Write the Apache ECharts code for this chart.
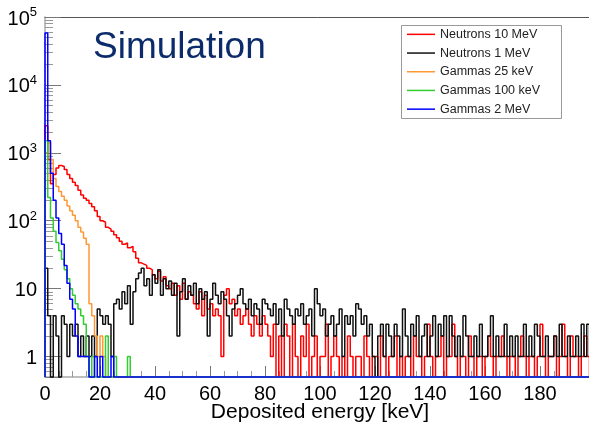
<!DOCTYPE html>
<html><head><meta charset="utf-8">
<script src="https://cdn.jsdelivr.net/npm/echarts@6/dist/echarts.min.js"></script>
<style>html,body{margin:0;padding:0;background:#fff}#c{width:589px;height:424px}</style>
</head><body><div id="c"></div>
<script>
// Legend / series names
const seriesNames = ['Neutrons 10 MeV', 'Neutrons 1 MeV', 'Gammas 25 keV', 'Gammas 100 keV', 'Gammas 2 MeV'];
const seriesColors = ['#ff0000', '#111111', '#ff9933', '#33cc33', '#0000ff'];

// Counts per 1 keV bin, starting at 0 keV (0 = empty bin)
const neutrons10MeV = [
  2500, 800, 350, 480, 600, 650, 630, 570, 480, 420,
  370, 330, 280, 240, 215, 200, 180, 160, 140, 115,
  100, 95, 80, 75, 70, 62, 56, 50, 45, 47,
  40, 42, 35, 28, 24, 23, 22, 20, 19, 16,
  14, 18, 13, 15, 11, 10, 12, 8, 11, 7,
  12, 7, 9, 8, 6, 5, 9, 4, 8, 5,
  6, 4, 5, 4, 1, 8, 10, 6, 7, 4,
  5, 3, 4, 5, 3, 2, 4, 3, 2, 4,
  3, 2, 1, 3, 0, 2, 0, 3, 2, 0,
  3, 1, 0, 2, 1, 3, 0, 1, 2, 0,
  1, 1, 3, 0, 1, 2, 1, 0, 1, 0,
  2, 1, 0, 1, 1, 0, 2, 1, 0, 1,
  1, 0, 2, 1, 0, 1, 1, 2, 0, 1,
  0, 1, 1, 0, 2, 1, 1, 0, 1, 3,
  1, 0, 1, 1, 2, 0, 1, 1, 3, 1,
  0, 1, 1, 0, 2, 1, 0, 1, 1, 0,
  1, 2, 1, 0, 1, 1, 2, 1, 0, 1,
  1, 0, 1, 2, 1, 0, 1, 1, 0, 1,
  3, 1, 0, 1, 1, 2, 0, 1, 3, 1,
  0, 2, 1, 1, 0, 1, 2, 1, 0, 1
];
const neutrons1MeV = [
  20, 4, 0, 4, 2, 0, 4, 3, 1, 3,
  2, 3, 1, 2, 1, 2, 1, 2, 1, 5,
  4, 3, 4, 3, 1, 6, 7, 5, 9, 6,
  11, 3, 9, 14, 17, 20, 11, 14, 8, 16,
  12, 19, 8, 14, 10, 13, 8, 12, 2, 9,
  14, 7, 11, 8, 12, 6, 10, 7, 9, 2,
  7, 12, 8, 6, 9, 7, 4, 2, 5, 6,
  8, 10, 6, 5, 7, 4, 6, 5, 3, 7,
  6, 5, 4, 6, 3, 5, 2, 7, 5, 4,
  3, 5, 4, 6, 3, 4, 5, 2, 10, 6,
  4, 5, 2, 3, 4, 2, 3, 5, 1, 4,
  3, 4, 2, 6, 5, 3, 4, 2, 3, 1,
  0, 2, 3, 1, 3, 2, 1, 3, 2, 1,
  5, 2, 1, 3, 2, 4, 1, 2, 3, 1,
  2, 4, 1, 3, 2, 4, 1, 4, 2, 1,
  2, 1, 4, 2, 1, 1, 2, 1, 3, 1,
  1, 2, 4, 1, 2, 1, 1, 3, 1, 2,
  1, 2, 1, 1, 3, 1, 2, 1, 3, 2,
  1, 1, 2, 1, 1, 2, 1, 3, 1, 1,
  2, 1, 1, 2, 1, 3, 1, 3, 1, 2
];
const gammas25keV = [
  1000, 1400, 800, 420, 320, 270, 230, 200, 165, 140,
  120, 100, 80, 68, 55, 45, 6, 4, 2, 1,
  2, 1
];
const gammas100keV = [
  1500, 220, 110, 70, 48, 36, 27, 19, 14, 10,
  8, 6, 5, 4, 3, 1, 0, 1, 0, 0,
  0, 0, 2, 0, 0, 1, 0, 0, 0, 0,
  1
];
const gammas2MeV = [
  58000, 1500, 500, 200, 110, 65, 45, 22, 12, 7,
  5, 2, 1, 1, 1, 1, 0, 0, 1, 0,
  1, 0, 0, 0, 1
];

// Axis ticks
const xMin = 0, xMax = 200, xInterval = 20;
const yMin = 0.5, yMax = 100000;
const yMinorTicks = [0.6, 0.7, 0.8, 0.9];
[1, 10, 100, 1000, 10000].forEach(d => { for (let m = 2; m <= 9; m++) yMinorTicks.push(m * d); });

const NBINS = 200;
const FONT = 'Liberation Sans';

function histPoints(vals) {
  const full = [];
  for (let i = 0; i < NBINS; i++) full.push(i < vals.length ? vals[i] : 0);
  const pts = [[0, yMin]];
  full.forEach((v, i) => pts.push([i, v > 0 ? v : yMin]));
  const last = full[NBINS - 1];
  pts.push([NBINS, last > 0 ? last : yMin]);
  return pts;
}

const allData = [neutrons10MeV, neutrons1MeV, gammas25keV, gammas100keV, gammas2MeV];

const chart = echarts.init(document.getElementById('c'), null, { renderer: 'canvas' });
chart.setOption({
  animation: false,
  backgroundColor: '#fff',
  title: {
    text: 'Simulation', left: 88, top: 24,
    textStyle: { fontSize: 37, fontWeight: 'normal', color: '#0b2b6b', fontFamily: FONT }
  },
  grid: { left: 45, top: 17, width: 550, height: 360, containLabel: false, outerBoundsMode: 'none' },
  legend: {
    data: seriesNames, orient: 'vertical', left: 407, top: 25, padding: 0,
    itemWidth: 28, itemHeight: 1.5, itemGap: 0, icon: 'rect',
    textStyle: { fontSize: 12.5, lineHeight: 18.7, color: '#222', fontFamily: FONT }
  },
  graphic: [{
    type: 'rect', z: 3,
    shape: { x: 401.5, y: 25.5, width: 160, height: 93 },
    style: { fill: '#fff', stroke: '#999', lineWidth: 1 }
  }],
  xAxis: [{
    type: 'value', min: xMin, max: xMax, interval: xInterval,
    name: 'Deposited energy [keV]', nameLocation: 'middle', nameGap: 25, nameMoveOverlap: false,
    nameTextStyle: { fontSize: 21, color: '#000', fontFamily: FONT },
    axisLine: { show: true, lineStyle: { color: '#aaa', width: 1.5 } },
    axisTick: { show: true, inside: true, length: 11, lineStyle: { color: '#777' } },
    minorTick: { show: true, splitNumber: 4, length: 6, lineStyle: { color: '#999' } },
    axisLabel: { fontSize: 20, color: '#000', margin: 7, fontFamily: FONT, showMaxLabel: false },
    splitLine: { show: false }
  }, {
    type: 'value', min: xMin, max: xMax, position: 'top',
    axisLine: { show: true, lineStyle: { color: '#555', width: 1 } },
    axisTick: { show: false }, axisLabel: { show: false }, splitLine: { show: false }
  }],
  yAxis: [{
    type: 'log', logBase: 10, min: yMin, max: yMax,
    axisLine: { show: true, lineStyle: { color: '#aaa', width: 1.5 } },
    axisTick: { show: true, inside: true, length: 16, lineStyle: { color: '#777' } },
    splitLine: { show: false },
    axisLabel: {
      margin: 8, color: '#000', fontFamily: FONT, fontSize: 20,
      formatter: function (v) {
        const l = Math.log10(v), e = Math.round(l);
        if (Math.abs(l - e) > 0.01) return '';
        if (e === 0) return '{b|1}';
        if (e === 1) return '{b|10}';
        return '{b|10}{s|' + e + '}';
      },
      rich: {
        b: { fontSize: 20, fontFamily: FONT, color: '#000', lineHeight: 22, padding: [4, 0, 0, 0] },
        s: { fontSize: 13, fontFamily: FONT, color: '#000', verticalAlign: 'top', lineHeight: 13 }
      }
    }
  }, {
    type: 'log', logBase: 10, min: yMin, max: yMax, position: 'left',
    axisLine: { show: false }, axisLabel: { show: false }, splitLine: { show: false },
    axisTick: { show: true, inside: true, length: 8, customValues: yMinorTicks, lineStyle: { color: '#999' } }
  }],
  series: allData.map((d, i) => ({
    name: seriesNames[i], type: 'line', step: 'end', data: histPoints(d),
    xAxisIndex: 0, yAxisIndex: 0, symbol: 'none', clip: false,
    lineStyle: { color: seriesColors[i], width: 1.5 },
    itemStyle: { color: seriesColors[i] }
  }))
});
</script></body></html>
